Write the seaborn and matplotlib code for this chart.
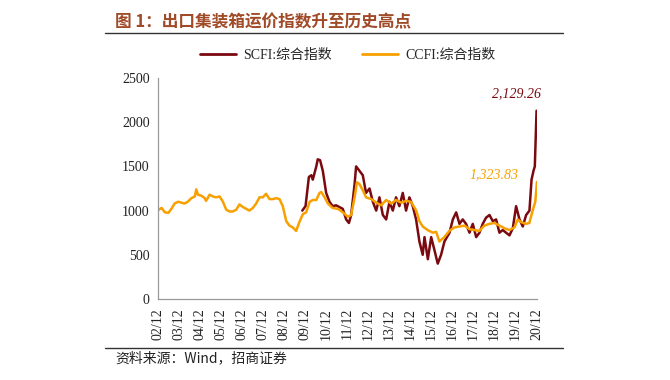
import pandas as pd
import seaborn as sns
import matplotlib.pyplot as plt
from matplotlib.lines import Line2D

# --- Data ---
ccfi_dates = [
    "2002-12-01", "2003-02-01", "2003-04-01", "2003-06-01", "2003-08-01", "2003-09-15",
    "2003-11-15", "2004-01-10", "2004-03-05", "2004-05-01", "2004-07-01", "2004-09-01",
    "2004-09-25", "2004-10-25", "2004-12-20", "2005-02-20", "2005-03-15", "2005-05-15",
    "2005-07-10", "2005-09-05", "2005-11-05", "2006-01-01", "2006-02-28", "2006-04-25",
    "2006-06-20", "2006-08-20", "2006-10-15", "2006-12-15", "2007-02-10", "2007-04-05",
    "2007-06-05", "2007-08-01", "2007-09-28", "2007-11-25", "2008-01-20", "2008-03-20",
    "2008-05-15", "2008-07-15", "2008-09-10", "2008-11-05", "2009-01-05", "2009-03-01",
    "2009-04-28", "2009-06-25", "2009-08-20", "2009-10-20", "2009-12-15", "2010-02-15",
    "2010-04-10", "2010-06-10", "2010-08-05", "2010-09-05", "2010-11-01", "2010-12-28",
    "2011-03-20", "2011-06-20", "2011-09-15", "2011-12-10", "2012-02-05", "2012-04-05",
    "2012-05-15", "2012-06-28", "2012-08-25", "2012-10-20", "2013-01-20", "2013-04-15",
    "2013-07-10", "2013-10-05", "2014-01-01", "2014-03-25", "2014-06-20", "2014-09-15",
    "2014-12-10", "2015-03-10", "2015-05-05", "2015-07-01", "2015-09-25", "2015-12-25",
    "2016-02-20", "2016-04-15", "2016-07-10", "2016-10-05", "2017-01-01", "2017-03-30",
    "2017-06-25", "2017-09-20", "2017-12-15", "2018-03-10", "2018-06-05", "2018-09-01",
    "2018-11-28", "2019-02-25", "2019-05-20", "2019-08-15", "2019-11-10", "2020-01-05",
    "2020-03-01", "2020-05-28", "2020-07-25", "2020-09-20", "2020-11-05", "2020-12-04",
]
ccfi_values = [
    1003, 1030, 980, 975, 1030, 1080,
    1100, 1090, 1080, 1100, 1140, 1160,
    1240, 1180, 1170, 1140, 1110, 1180,
    1160, 1150, 1160, 1100, 1010, 990,
    990, 1010, 1070, 1040, 1020, 1000,
    1030, 1080, 1150, 1150, 1190, 1130,
    1130, 1140, 1130, 1050, 880, 830,
    810, 770, 870, 960, 980, 1100,
    1120, 1120, 1200, 1210, 1150, 1080,
    1030, 1020, 980, 930, 950, 1150,
    1320, 1300, 1230, 1150, 1130, 1090,
    1060, 1120, 1080, 1120, 1090, 1110,
    1100, 1000, 880, 820, 780, 750,
    760, 650, 700, 770, 810, 820,
    830, 790, 780, 770, 830, 850,
    860, 830, 800, 780, 810, 900,
    870, 850, 860, 1000, 1100, 1323.83,
]

scfi_dates = [
    "2009-10-10", "2009-12-05", "2010-02-01", "2010-03-15", "2010-04-10", "2010-06-10",
    "2010-07-05", "2010-08-15", "2010-10-01", "2010-11-28", "2011-01-25", "2011-03-22",
    "2011-05-20", "2011-07-15", "2011-09-12", "2011-11-10", "2011-12-28", "2012-02-05",
    "2012-04-05", "2012-05-01", "2012-06-28", "2012-08-25", "2012-10-20", "2012-12-20",
    "2013-02-15", "2013-04-15", "2013-06-10", "2013-08-08", "2013-10-05", "2013-12-01",
    "2014-01-28", "2014-03-25", "2014-05-22", "2014-07-20", "2014-09-15", "2014-11-12",
    "2015-01-10", "2015-03-08", "2015-05-05", "2015-07-01", "2015-08-01", "2015-09-28",
    "2015-11-25", "2016-01-22", "2016-03-18", "2016-05-15", "2016-07-12", "2016-10-08",
    "2016-12-05", "2017-02-01", "2017-03-30", "2017-05-25", "2017-07-22", "2017-09-20",
    "2017-11-16", "2018-01-14", "2018-03-12", "2018-05-08", "2018-07-05", "2018-09-02",
    "2018-10-30", "2018-12-26", "2019-02-22", "2019-04-20", "2019-06-17", "2019-08-15",
    "2019-10-12", "2019-12-08", "2020-02-05", "2020-04-02", "2020-05-30", "2020-07-27",
    "2020-09-01", "2020-10-05", "2020-10-28", "2020-11-27",
]
scfi_values = [
    1000, 1050, 1380, 1400, 1350, 1500,
    1580, 1570, 1450, 1200, 1100, 1050,
    1060, 1040, 1020, 900, 860, 950,
    1300, 1500, 1450, 1400, 1200, 1250,
    1100, 1000, 1150, 950, 900, 1100,
    1000, 1150, 1050, 1200, 1000, 1150,
    1050, 900, 650, 500, 700, 450,
    700, 550, 400, 500, 650, 750,
    900, 980, 850, 900, 850, 750,
    850, 700, 750, 850, 920, 950,
    880, 900, 750, 780, 750, 720,
    800, 1050, 900, 820, 950, 1000,
    1350, 1450, 1500, 2129.26,
]

years = list(range(2002, 2021))
tick_labels = [f"{y % 100:02d}/12" for y in years]

scfi_name = "SCFI:综合指数"
ccfi_name = "CCFI:综合指数"

df = pd.concat([
    pd.DataFrame({"date": pd.to_datetime(scfi_dates), "value": scfi_values, "series": scfi_name}),
    pd.DataFrame({"date": pd.to_datetime(ccfi_dates), "value": ccfi_values, "series": ccfi_name}),
])

# --- Style ---
sns.set_style("white")
plt.rcParams["font.family"] = ["Liberation Serif", "Noto Sans CJK SC"]

red = "#7a0a0f"
orange = "#f7a000"

fig = plt.figure(figsize=(6.7, 3.8), dpi=100)
ax = fig.add_axes([0.2358, 0.2132, 0.5657, 0.5815])

sns.lineplot(data=df, x="date", y="value", hue="series",
             palette={scfi_name: red, ccfi_name: orange},
             hue_order=[scfi_name, ccfi_name], linewidth=1.8, ax=ax)

ax.set_ylim(0, 2500)
ax.set_yticks(range(0, 2501, 500))
ax.set_xlim(pd.Timestamp("2002-12-01"), pd.Timestamp("2020-12-05"))
ax.set_xticks([pd.Timestamp(f"{y}-12-01") for y in years])
ax.set_xticklabels(tick_labels, rotation=90)
ax.set_xlabel("")
ax.set_ylabel("")
ax.tick_params(axis="both", labelsize=10, colors="#222222", length=3, direction="out", width=0.8)
ax.tick_params(axis="x", colors="#888888", labelcolor="#222222")
ax.tick_params(axis="y", length=0, pad=6)
for s in ["top", "right"]:
    ax.spines[s].set_visible(False)
for s in ["left", "bottom"]:
    ax.spines[s].set_color("#999999")
    ax.spines[s].set_linewidth(0.9)

leg = ax.legend(loc="center", bbox_to_anchor=(0.5, 1.104), ncol=2, frameon=False,
                fontsize=10, handlelength=2.6, columnspacing=2.2, handletextpad=0.5)
for line in leg.get_lines():
    line.set_linewidth(2)

# end-point labels
ax.annotate(f"{scfi_values[-1]:,.2f}", xy=(pd.Timestamp(scfi_dates[-1]), scfi_values[-1]),
            xytext=(3, 12), textcoords="offset points", ha="right", va="center",
            color=red, fontsize=10, style="italic")
ax.annotate(f"{ccfi_values[-1]:,.2f}", xy=(pd.Timestamp(ccfi_dates[-1]), ccfi_values[-1]),
            xytext=(-13, 5), textcoords="offset points", ha="right", va="center",
            color=orange, fontsize=10, style="italic")

# title, rules and source
fig.text(0.172, 0.942, "图 1：出口集装箱运价指数升至历史高点", fontsize=12, fontweight="bold",
         color="#a04a28", va="center", family=["Noto Sans CJK SC", "DejaVu Sans"])
fig.add_artist(Line2D([0.157, 0.84], [0.914, 0.914], color="#333333", linewidth=1.0))
fig.add_artist(Line2D([0.157, 0.84], [0.085, 0.085], color="#333333", linewidth=1.0))
fig.text(0.172, 0.057, "资料来源：Wind，招商证券", fontsize=10, color="#222222", va="center",
         family=["Noto Sans CJK SC", "DejaVu Sans"])

plt.savefig("out.png", dpi=100)
plt.close()
